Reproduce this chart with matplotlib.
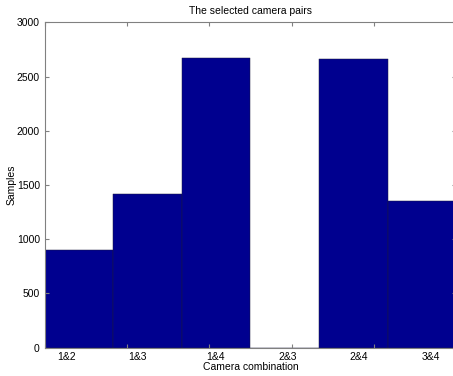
import numpy as np
import matplotlib.pyplot as plt

plt.rcParams['font.family'] = ['Liberation Sans', 'DejaVu Sans']

# camera pair counts
pairs = ['1&2', '1&3', '1&4', '2&3', '2&4', '3&4']
samples = [903, 1417, 2670, 0, 2664, 1352]
label_pos = [1.27, 2.13, 3.08, 3.955, 4.82, 5.69]

fig = plt.figure(figsize=(4.53, 3.76), dpi=100)
ax = fig.add_axes([0.0987, 0.0753, 0.9085, 0.8654])

edges = np.linspace(1, 6, len(samples) + 1)
ax.bar(edges[:-1], samples, width=np.diff(edges), align='edge',
       color='#00008F', edgecolor='#1a1a40', linewidth=0.35)

ax.set_xlim(1, 6)
ax.set_ylim(0, 3000)
ax.set_yticks(np.arange(0, 3001, 500))
ax.set_xticks(np.arange(1, 7))
ax.set_xticklabels([])
ax.set_xticks(label_pos, pairs, minor=True)
ax.tick_params(axis='x', which='minor', length=0, pad=3)
ax.tick_params(which='major', direction='in', length=3, color='#808080',
               top=True, right=True, labelsize=7.5)
ax.tick_params(which='minor', labelsize=7.5)
for s in ax.spines.values():
    s.set_color('#808080')
    s.set_linewidth(0.8)

ax.set_title('The selected camera pairs', fontsize=7.5, pad=6)
ax.set_xlabel('Camera combination', fontsize=7.5, labelpad=0)
ax.set_ylabel('Samples', fontsize=7.5)
ax.yaxis.set_label_coords(-0.068, 0.5)

fig.savefig('out.png', dpi=100)
